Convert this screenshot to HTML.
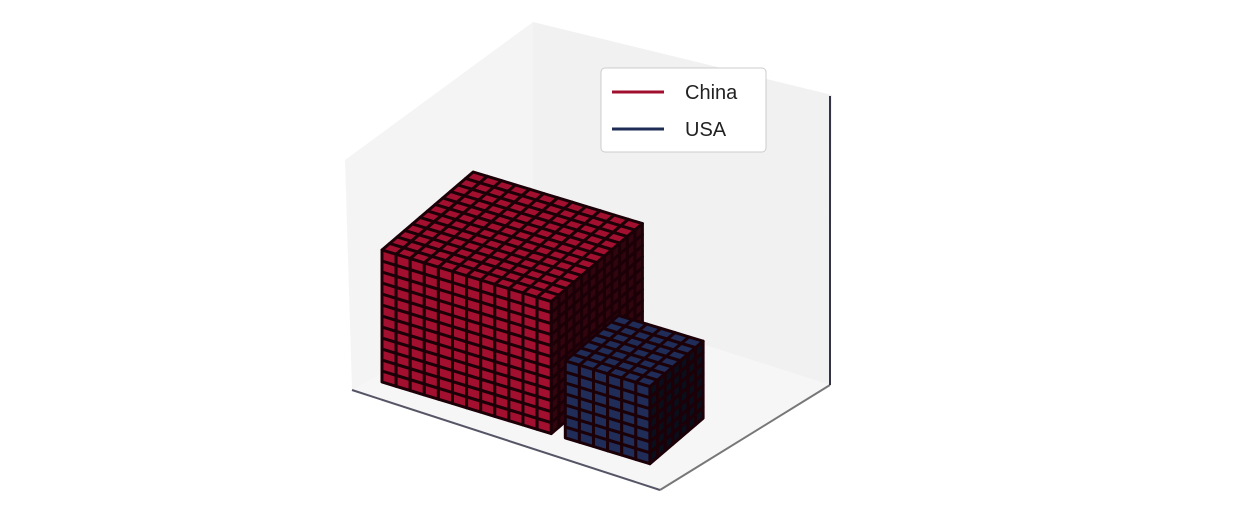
<!DOCTYPE html>
<html><head><meta charset="utf-8"><style>
body{margin:0;background:#fff;}
svg{display:block;font-family:"Liberation Sans",sans-serif;}
</style></head><body>
<svg id="chart" width="1233" height="513" viewBox="0 0 1233 513">
<g>
<polygon points="345,160 533,22 533,290 352,390" fill="#f4f4f4"/>
<polygon points="533,22 832,95 830,385 533,290" fill="#f1f1f1"/>
<polygon points="352,390 533,290 830,385 660,490" fill="#f6f6f6"/>
<line x1="352" y1="390" x2="660" y2="490" stroke="#556" stroke-width="2"/>
<line x1="660" y1="490" x2="830" y2="385" stroke="#777" stroke-width="2"/>
<line x1="830" y1="96" x2="830" y2="385" stroke="#334" stroke-width="2"/>
</g>
<g id="voxels"></g>
<g>
<rect x="601" y="68" width="165" height="84" rx="4" fill="#fff" stroke="#ccc"/>
<g>
<line x1="612" y1="92" x2="664" y2="92" stroke="#a0102e" stroke-width="3"/>
<text x="685" y="99" font-size="20" fill="#222">China</text></g>
<g>
<line x1="612" y1="129" x2="664" y2="129" stroke="#1e2c55" stroke-width="3"/>
<text x="685" y="136" font-size="20" fill="#222">USA</text></g>
</g>
</svg>
<script>
const categories=['China','USA'];
const widths=[12,6];
const depths=[12,7];
const heights=[12,7];
const colors=['#a3102f','#1f2d58'];
const offsetsX=[0,13];
const O=[382,382], ex=[14.1,4.3], ey=[7.6,-6.5], ez=[0,-11];
function P(x,y,z){return [O[0]+x*ex[0]+y*ey[0]+z*ez[0],O[1]+x*ex[1]+y*ey[1]+z*ez[1]];}
const g=document.getElementById('voxels');
const NS='http://www.w3.org/2000/svg';
function quad(pts,fill,name){
  const p=document.createElementNS(NS,'polygon');
  p.setAttribute('points',pts.map(q=>q.join(',')).join(' '));
  p.setAttribute('fill',fill);p.setAttribute('stroke','#1c0008');p.setAttribute('stroke-width','3');p.setAttribute('stroke-linejoin','round');
  
  
  g.appendChild(p);
}
function shade(c,f){const n=parseInt(c.slice(1),16);const r=Math.round(((n>>16)&255)*f),gg=Math.round(((n>>8)&255)*f),b=Math.round((n&255)*f);return 'rgb('+r+','+gg+','+b+')';}
categories.forEach((cat,i)=>{
  const x0=offsetsX[i],W=widths[i],D=depths[i],H=heights[i],c=colors[i];
  const n=cat.toLowerCase();
  for(let y=D-1;y>=0;y--)for(let z=0;z<H;z++){const x=x0+W;
    quad([P(x,y,z),P(x,y+1,z),P(x,y+1,z+1),P(x,y,z+1)],shade(c,0.3),n+'-voxel-side');}
  for(let y=D-1;y>=0;y--)for(let x=x0;x<x0+W;x++){
    quad([P(x,y,H),P(x+1,y,H),P(x+1,y+1,H),P(x,y+1,H)],c,n+'-voxel-top');}
  for(let z=0;z<H;z++)for(let x=x0;x<x0+W;x++){
    quad([P(x,0,z),P(x+1,0,z),P(x+1,0,z+1),P(x,0,z+1)],c,n+'-voxel-front');}
});
</script>
</body></html>
